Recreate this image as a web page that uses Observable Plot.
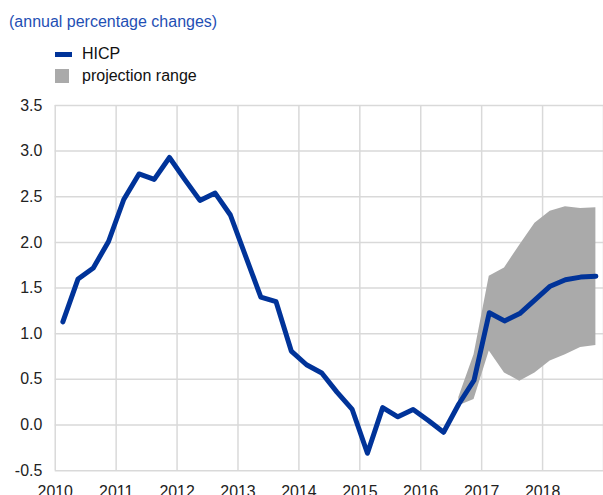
<!DOCTYPE html>
<html>
<head>
<meta charset="utf-8">
<script src="https://cdn.jsdelivr.net/npm/d3@7"></script>
<script src="https://cdn.jsdelivr.net/npm/@observablehq/plot@0.6"></script>
<style>
  html, body { margin: 0; padding: 0; background: #fff; width: 603px; height: 495px; overflow: hidden; }
  body { position: relative; font-family: "Liberation Sans", Arial, sans-serif; }
  #title { position: absolute; left: 9px; top: 13px; font-size: 16px; color: #1f4fb4; white-space: nowrap; }
  .leg { position: absolute; left: 55px; font-size: 16px; color: #111; white-space: nowrap; }
  .leg .sw { position: absolute; left: 0; }
  .leg span.t { position: absolute; left: 27px; top: 0; }
  #chart { position: absolute; left: 0; top: 95px; }
</style>
</head>
<body>
<div id="title">(annual percentage changes)</div>
<div class="leg" style="top:45px"><div class="sw" style="top:6.5px;width:17px;height:5px;background:#003399"></div><span class="t">HICP</span></div>
<div class="leg" style="top:67px"><div class="sw" style="top:2px;width:14px;height:14px;background:#aaaaaa"></div><span class="t">projection range</span></div>
<div id="chart"></div>
<script>
// Quarters (x categories)
const quarters = [
  "2010Q1","2010Q2","2010Q3","2010Q4",
  "2011Q1","2011Q2","2011Q3","2011Q4",
  "2012Q1","2012Q2","2012Q3","2012Q4",
  "2013Q1","2013Q2","2013Q3","2013Q4",
  "2014Q1","2014Q2","2014Q3","2014Q4",
  "2015Q1","2015Q2","2015Q3","2015Q4",
  "2016Q1","2016Q2","2016Q3","2016Q4",
  "2017Q1","2017Q2","2017Q3","2017Q4",
  "2018Q1","2018Q2","2018Q3","2018Q4"
];
// HICP, annual percentage changes
const hicp = [
  1.13, 1.60, 1.72, 2.01,
  2.47, 2.75, 2.69, 2.93,
  2.69, 2.46, 2.54, 2.30,
  1.85, 1.40, 1.35, 0.81,
  0.66, 0.57, 0.36, 0.17,
  -0.31, 0.19, 0.09, 0.17,
  0.05, -0.08, 0.23, 0.49,
  1.23, 1.14, 1.22, 1.37,
  1.52, 1.59, 1.62, 1.63
];
// Projection range (starts at 2016Q3)
const rangeQuarters = ["2016Q3","2016Q4","2017Q1","2017Q2","2017Q3","2017Q4","2018Q1","2018Q2","2018Q3","2018Q4"];
const rangeLow  = [0.21, 0.28, 0.81, 0.57, 0.48, 0.57, 0.70, 0.77, 0.85, 0.87];
const rangeHigh = [0.30, 0.77, 1.63, 1.72, 1.97, 2.21, 2.34, 2.39, 2.37, 2.38];
// Axis ticks
const yearLabels = [2010, 2011, 2012, 2013, 2014, 2015, 2016, 2017, 2018];
const yearGrid = [2010, 2011, 2012, 2013, 2014, 2015, 2016, 2017, 2018, 2019];
const yTicks = [-0.5, 0.0, 0.5, 1.0, 1.5, 2.0, 2.5, 3.0, 3.5];

const qx = q => +q.slice(0, 4) + (+q.slice(5) - 0.5) / 4;
const line = quarters.map((q, i) => ({x: qx(q), y: hicp[i]}));
const band = rangeQuarters.map((q, i) => ({x: qx(q), lo: rangeLow[i], hi: rangeHigh[i]}));

const chart = Plot.plot({
  width: 606,
  height: 410,
  marginLeft: 55,
  marginRight: 0,
  marginTop: 10,
  marginBottom: 33,
  style: {fontFamily: '"Liberation Sans", Arial, sans-serif', fontSize: "16px", color: "#222", background: "#fff", overflow: "visible"},
  x: {domain: [2010, 2019], label: null},
  y: {domain: [-0.5, 3.5], label: null},
  marks: [
    Plot.gridY(yTicks, {stroke: "#d9d9d9", strokeOpacity: 1, strokeWidth: 1.5}),
    Plot.gridX(yearGrid, {stroke: "#d9d9d9", strokeOpacity: 1, strokeWidth: 1.5}),
    Plot.areaY(band, {x: "x", y1: "lo", y2: "hi", fill: "#aaaaaa", curve: "linear"}),
    Plot.line(line, {x: "x", y: "y", stroke: "#003399", strokeWidth: 5, strokeLinejoin: "round", strokeLinecap: "round"}),
    Plot.axisX({ticks: yearLabels, tickFormat: d => String(d), tickSize: 0, tickPadding: 15, fill: "#222", label: null}),
    Plot.axisY({ticks: yTicks, tickFormat: d => d.toFixed(1), tickSize: 0, tickPadding: 13, fill: "#222", label: null})
  ]
});
document.getElementById("chart").appendChild(chart);
</script>
</body>
</html>
